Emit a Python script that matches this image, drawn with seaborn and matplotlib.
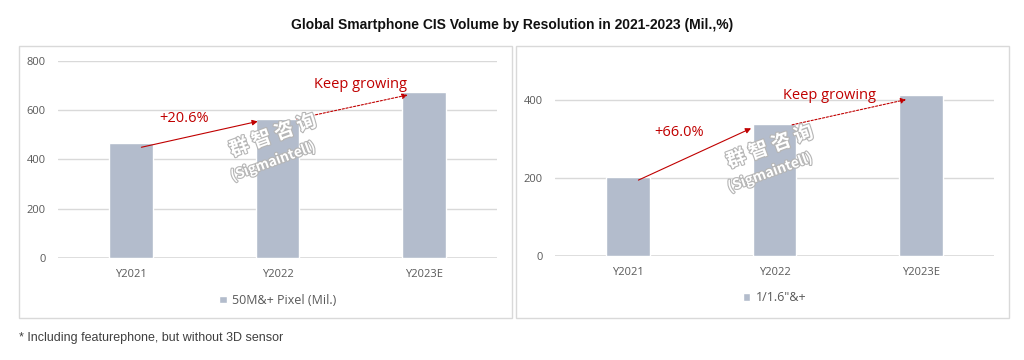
import matplotlib
matplotlib.use('Agg')
import matplotlib.pyplot as plt
import matplotlib.patheffects as pe
from matplotlib.patches import Rectangle
import numpy as np
import pandas as pd
import seaborn as sns

years = ['Y2021', 'Y2022', 'Y2023E']
pixel_50m = [468, 563, 675]
optical_16 = [204, 339, 413]
label_left = '50M&+ Pixel (Mil.)'
label_right = '1/1.6"&+'
growth_left = '+20.6%'
growth_right = '+66.0%'

sns.set_theme(style='white')
plt.rcParams['font.family'] = ['Open Sans', 'DejaVu Sans']

BAR = '#b3bccc'
RED = '#c00000'
GRID = '#d9d9d9'
TXT = '#595959'

fig = plt.figure(figsize=(10.24, 3.6), dpi=100)

# panel frames
for x0 in (19, 516):
    fig.patches.append(Rectangle((x0 / 1024, 1 - 318 / 360), 493 / 1024, 272 / 360,
                                 transform=fig.transFigure, fill=False,
                                 edgecolor=GRID, lw=1.0))

ax1 = fig.add_axes([58 / 1024, 1 - 258 / 360, 439 / 1024, 197.3 / 360])
ax2 = fig.add_axes([555 / 1024, 1 - 256 / 360, 439 / 1024, 194.6 / 360])


def panel(ax, vals, label, ylim, yticks):
    df = pd.DataFrame({'year': years, 'v': vals})
    sns.barplot(data=df, x='year', y='v', color=BAR, width=0.3, ax=ax,
                label=label, saturation=1, zorder=3)
    ax.set_ylim(*ylim)
    ax.set_xlim(-0.5, 2.5)
    ax.set_yticks(yticks)
    ax.yaxis.grid(True, color=GRID, lw=1.0, zorder=0)
    ax.set_axisbelow(True)
    for s in ax.spines.values():
        s.set_visible(False)
    ax.set_xlabel('')
    ax.set_ylabel('')
    ax.tick_params(axis='y', length=0, pad=9, labelsize=8, labelcolor=TXT)
    ax.tick_params(axis='x', length=0, pad=8, labelsize=8, labelcolor=TXT)
    ax.axhline(0, color=GRID, lw=1.2, zorder=2)
    leg = ax.legend(loc='center', bbox_to_anchor=(0.5, -0.215), frameon=False,
                    handlelength=0.6, handleheight=0.6, handletextpad=0.4,
                    fontsize=9)
    for t in leg.get_texts():
        t.set_color(TXT)


def arrow(ax, p0, p1, ls):
    ax.annotate('', xy=p1, xytext=p0,
                arrowprops=dict(arrowstyle='-|>', color=RED, lw=0.8,
                                linestyle=ls, mutation_scale=8,
                                shrinkA=0, shrinkB=0), zorder=5)


def watermark(ax, x, y):
    for txt, dy, fs in (('群 智 咨 询', 0.0, 14), ('(Sigmaintell)', -0.13, 10)):
        ax.text(x, y + dy, txt, transform=ax.transAxes, rotation=20,
                ha='center', va='center', fontsize=fs, fontweight='bold',
                color='white', zorder=6,
                family=['Noto Sans CJK SC', 'DejaVu Sans'],
                path_effects=[pe.withStroke(linewidth=1.6, foreground='#b5b5b5')])


panel(ax1, pixel_50m, label_left, (0, 800), [0, 200, 400, 600, 800])
arrow(ax1, (0.07, 449), (0.865, 554), '-')
arrow(ax1, (1.13, 564), (1.89, 661), (0, (2, 1.5)))
ax1.text(0.36, 564, growth_left, color=RED, fontsize=10.5, ha='center', va='center', zorder=6)
ax1.text(1.57, 705, 'Keep growing', color=RED, fontsize=10.5, ha='center', va='center', zorder=6)
watermark(ax1, 0.49, 0.62)

panel(ax2, optical_16, label_right, (0, 500), [0, 200, 400])
arrow(ax2, (0.07, 195), (0.84, 328), '-')
arrow(ax2, (1.12, 337), (1.90, 402), (0, (2, 1.5)))
ax2.text(0.35, 317, growth_right, color=RED, fontsize=10.5, ha='center', va='center', zorder=6)
ax2.text(1.375, 413, 'Keep growing', color=RED, fontsize=10.5, ha='center', va='center', zorder=6)
watermark(ax2, 0.49, 0.56)

fig.text(0.5, 1 - 25 / 360, 'Global Smartphone CIS Volume by Resolution in 2021-2023 (Mil.,%)',
         ha='center', va='center', fontsize=10, fontweight='bold', color='#111111',
         family=['Liberation Sans Narrow', 'Liberation Sans', 'DejaVu Sans'])
fig.text(19 / 1024, 1 - 338 / 360, '* Including featurephone, but without 3D sensor',
         ha='left', va='center', fontsize=9, color='#404040',
         family=['Liberation Sans', 'DejaVu Sans'])

fig.savefig('out.png', dpi=100)
